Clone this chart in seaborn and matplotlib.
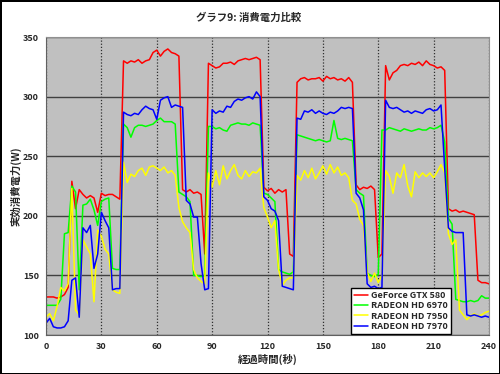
import pandas as pd
import matplotlib
matplotlib.use("Agg")
import matplotlib.pyplot as plt
import seaborn as sns

# elapsed time (s), sampled every 2 s
seconds = list(range(0, 241, 2))

gtx580 = [132, 132, 132, 131, 132, 134, 140, 229, 206, 222,
          218, 215, 217, 215, 203, 219, 217, 218, 218, 216,
          214, 330, 328, 330, 329, 331, 328, 330, 331, 337,
          339, 334, 338, 340, 337, 336, 334, 222, 220, 222,
          219, 220, 218, 168, 328, 326, 324, 325, 328, 328,
          329, 327, 330, 331, 332, 331, 332, 333, 331, 224,
          221, 223, 219, 222, 220, 222, 168, 166, 312, 315,
          316, 314, 315, 315, 316, 313, 317, 315, 316, 314,
          315, 313, 316, 312, 226, 222, 224, 223, 225, 222,
          165, 168, 326, 314, 320, 322, 326, 327, 326, 328,
          327, 329, 326, 330, 327, 326, 324, 325, 322, 206,
          204, 205, 203, 204, 203, 202, 201, 146, 144, 144,
          143]

hd6970 = [125, 125, 125, 125, 130, 185, 186, 225, 220, 138,
          209, 210, 214, 205, 192, 212, 214, 215, 156, 155,
          155, 277, 274, 266, 274, 276, 276, 275, 276, 277,
          280, 282, 279, 279, 279, 277, 220, 218, 216, 212,
          150, 150, 149, 150, 275, 275, 273, 274, 272, 271,
          276, 277, 278, 277, 277, 276, 278, 277, 276, 219,
          218, 215, 212, 155, 153, 152, 151, 153, 268, 267,
          266, 265, 264, 263, 264, 263, 262, 263, 280, 265,
          264, 265, 264, 263, 222, 219, 217, 152, 150, 149,
          151, 272, 272, 274, 273, 272, 271, 273, 272, 271,
          272, 273, 272, 272, 274, 273, 274, 276, 262, 198,
          193, 130, 129, 128, 128, 129, 128, 129, 133, 131,
          131]

hd7950 = [115, 118, 112, 124, 140, 137, 143, 223, 121, 117,
          180, 174, 168, 128, 188, 183, 172, 168, 138, 136,
          135, 245, 228, 235, 233, 238, 240, 234, 241, 242,
          240, 238, 241, 236, 238, 234, 207, 195, 190, 186,
          155, 148, 145, 143, 236, 224, 238, 226, 242, 231,
          238, 243, 234, 231, 238, 233, 237, 236, 240, 207,
          199, 190, 196, 155, 142, 146, 148, 148, 234, 230,
          238, 232, 240, 231, 236, 242, 235, 243, 236, 241,
          234, 236, 232, 213, 210, 197, 192, 153, 145, 152,
          144, 150, 238, 233, 219, 236, 232, 243, 225, 216,
          237, 232, 236, 233, 236, 232, 237, 243, 236, 185,
          176, 180, 121, 117, 113, 116, 118, 116, 117, 119,
          120]

hd7970 = [110, 114, 107, 106, 106, 107, 112, 146, 148, 115,
          190, 186, 192, 156, 168, 203, 196, 190, 138, 139,
          139, 287, 285, 284, 286, 285, 289, 292, 290, 289,
          281, 297, 299, 300, 291, 293, 292, 291, 213, 210,
          199, 199, 160, 138, 139, 289, 286, 288, 287, 292,
          291, 296, 298, 297, 299, 300, 298, 304, 300, 216,
          213, 206, 204, 196, 141, 140, 139, 138, 282, 281,
          288, 287, 289, 286, 288, 286, 285, 287, 286, 288,
          291, 290, 291, 290, 219, 215, 205, 143, 140, 141,
          139, 140, 297, 291, 290, 291, 289, 287, 288, 286,
          288, 287, 286, 289, 290, 288, 289, 293, 240, 190,
          187, 186, 186, 186, 117, 116, 117, 116, 115, 116,
          115]

names = ["GeForce GTX 580", "RADEON HD 6970", "RADEON HD 7950", "RADEON HD 7970"]
colors = ["#ff0000", "#00ff00", "#ffff00", "#0000ff"]
x_ticks = list(range(0, 241, 30))
y_ticks = list(range(100, 351, 50))

df = pd.DataFrame({"time": seconds,
                   names[0]: gtx580,
                   names[1]: hd6970,
                   names[2]: hd7950,
                   names[3]: hd7970})
df = df.melt(id_vars="time", var_name="card", value_name="watt")

sns.set_style("white")
plt.rcParams["font.family"] = ["Noto Sans CJK JP", "DejaVu Sans"]

fig = plt.figure(figsize=(5, 3.74), dpi=100, edgecolor="black", linewidth=2)
ax = fig.add_axes([0.092, 0.104, 0.886, 0.797])

sns.lineplot(data=df, x="time", y="watt", hue="card", hue_order=names,
             palette=dict(zip(names, colors)), linewidth=1.1, ax=ax)

ax.set_facecolor("#c0c0c0")
ax.set_xlim(0, 240)
ax.set_ylim(100, 350)
ax.set_xticks(x_ticks)
ax.set_yticks(y_ticks)
ax.set_xticklabels([str(v) for v in x_ticks], fontsize=6.5, fontweight="bold")
ax.set_yticklabels([str(v) for v in y_ticks], fontsize=6.5, fontweight="bold")
ax.tick_params(length=0, pad=5)

ax.yaxis.grid(True, color="#404040", linestyle="-", linewidth=1)
ax.xaxis.grid(True, color="#303030", linestyle=(0, (1, 1.5)), linewidth=0.9)
ax.set_axisbelow(True)
for side in ["top", "right"]:
    ax.spines[side].set_color("#909090")
for side in ["left", "bottom"]:
    ax.spines[side].set_color("#606060")

ax.set_xlabel("経過時間(秒)", fontsize=7.5, fontweight="bold", labelpad=2)
ax.set_ylabel("実効消費電力(W)", fontsize=7.5, fontweight="bold", labelpad=1)
fig.text(0.498, 0.952, "グラフ9: 消費電力比較", ha="center", va="center",
         fontsize=7.5, fontweight="bold")

leg = ax.legend(loc="lower right", bbox_to_anchor=(0.914, 0.005), borderaxespad=0,
                fancybox=False, frameon=True, edgecolor="black", framealpha=1,
                prop={"size": 6.5, "weight": "bold"}, handlelength=1.6,
                borderpad=0.3, labelspacing=0.15, handletextpad=0.35)
leg.get_frame().set_linewidth(1)

fig.savefig("out.png", dpi=100)
